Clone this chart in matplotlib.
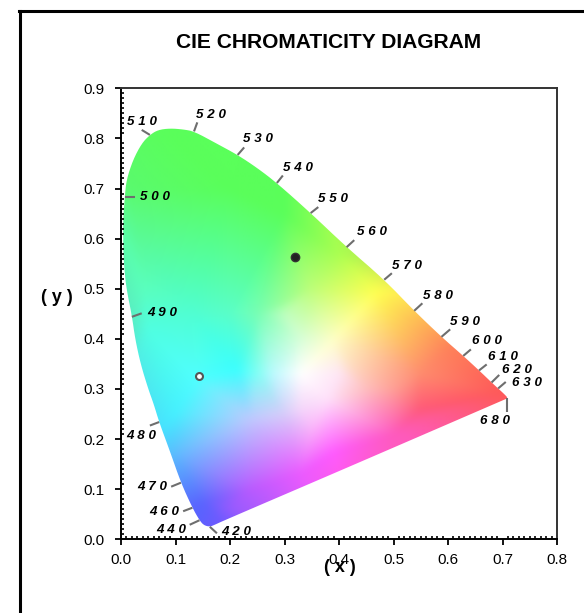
import numpy as np
import matplotlib
matplotlib.use("Agg")
import matplotlib.pyplot as plt
import matplotlib.tri as mtri
from matplotlib.patches import Polygon
from matplotlib.lines import Line2D

plt.rcParams['font.family'] = ['Liberation Sans', 'DejaVu Sans']

# Spectral locus
locus_x = [0.163, 0.152, 0.144, 0.131, 0.110, 0.090, 0.070, 0.060, 0.050, 0.036, 0.026, 0.020,
           0.010, 0.006, 0.004, 0.004, 0.007, 0.010, 0.022, 0.038, 0.053, 0.068, 0.090,
           0.114, 0.134, 0.175, 0.214, 0.250, 0.286, 0.348, 0.412, 0.483, 0.538, 0.588,
           0.628, 0.657, 0.680, 0.692, 0.703, 0.710, 0.704, 0.670, 0.400, 0.190, 0.172]
locus_y = [0.025, 0.028, 0.038, 0.063, 0.113, 0.175, 0.234, 0.270, 0.300, 0.350, 0.400, 0.446,
           0.500, 0.540, 0.584, 0.640, 0.684, 0.717, 0.757, 0.790, 0.807, 0.817, 0.820,
           0.818, 0.814, 0.790, 0.767, 0.741, 0.711, 0.651, 0.585, 0.518, 0.456, 0.404,
           0.366, 0.337, 0.313, 0.301, 0.290, 0.282, 0.279, 0.263, 0.136, 0.038, 0.029]

# Colour samples inside the diagram
col_x = [0.330, 0.213, 0.140, 0.200, 0.100, 0.030, 0.040, 0.050, 0.300, 0.400, 0.470,
         0.600, 0.690, 0.550, 0.390, 0.500, 0.400, 0.330, 0.237, 0.200, 0.180, 0.150,
         0.094, 0.100, 0.237, 0.300, 0.350, 0.400, 0.390, 0.300, 0.250, 0.350, 0.450,
         0.500, 0.550, 0.330, 0.280, 0.130, 0.010, 0.380, 0.330, 0.250,
         -0.1, -0.1, 0.3, 0.9, 0.9, 0.5, 0.1, 0.2]
col_y = [0.330, 0.337, 0.320, 0.700, 0.800, 0.600, 0.500, 0.420, 0.650, 0.570, 0.493,
         0.380, 0.290, 0.260, 0.172, 0.210, 0.135, 0.130, 0.098, 0.060, 0.040, 0.070,
         0.170, 0.250, 0.238, 0.250, 0.220, 0.330, 0.397, 0.450, 0.450, 0.500, 0.300,
         0.300, 0.330, 0.260, 0.330, 0.450, 0.700, 0.280, 0.400, 0.330,
         0.0, 0.9, 1.0, 0.5, 0.1, -0.1, -0.1, 0.45]
col_r = [255, 60, 80, 90, 90, 90, 90, 80, 90, 170, 255,
         255, 255, 255, 255, 255, 255, 235, 185, 150, 110, 90,
         90, 70, 190, 215, 250, 255, 255, 190, 120, 190, 255,
         255, 255, 245, 190, 80, 90, 255, 215, 130,
         80, 90, 90, 255, 255, 255, 90, 90]
col_g = [255, 255, 255, 255, 255, 250, 255, 255, 255, 255, 255,
         130, 90, 90, 90, 90, 90, 90, 90, 90, 90, 100,
         190, 240, 200, 205, 180, 230, 255, 255, 255, 255, 190,
         160, 140, 215, 250, 255, 250, 225, 255, 255,
         130, 250, 255, 90, 90, 90, 90, 255]
col_b = [255, 255, 255, 90, 90, 150, 190, 225, 90, 80, 80,
         90, 90, 120, 255, 190, 240, 255, 255, 255, 255, 255,
         255, 255, 255, 250, 250, 245, 200, 190, 180, 120, 190,
         150, 110, 250, 255, 210, 110, 250, 215, 245,
         255, 100, 90, 90, 150, 220, 255, 200]

# Wavelength marks: label, tick start, tick end, label position
wave_labels = ['5 1 0', '5 2 0', '5 3 0', '5 4 0', '5 5 0', '5 6 0', '5 7 0', '5 8 0',
               '5 9 0', '6 0 0', '6 1 0', '6 2 0', '6 3 0', '6 8 0',
               '5 0 0', '4 9 0', '4 8 0', '4 7 0', '4 6 0', '4 4 0', '4 2 0']
tick_x0 = [0.053, 0.134, 0.214, 0.286, 0.348, 0.414, 0.483, 0.538,
           0.588, 0.628, 0.657, 0.680, 0.692, 0.709,
           0.007, 0.020, 0.070, 0.110, 0.131, 0.144, 0.163]
tick_y0 = [0.807, 0.814, 0.767, 0.711, 0.651, 0.583, 0.518, 0.456,
           0.404, 0.366, 0.337, 0.313, 0.301, 0.281,
           0.684, 0.444, 0.234, 0.113, 0.063, 0.038, 0.025]
tick_x1 = [0.038, 0.140, 0.226, 0.297, 0.362, 0.428, 0.497, 0.553,
           0.604, 0.642, 0.671, 0.694, 0.706, 0.709,
           0.026, 0.038, 0.053, 0.092, 0.114, 0.126, 0.176]
tick_y1 = [0.817, 0.832, 0.782, 0.726, 0.663, 0.597, 0.531, 0.471,
           0.419, 0.379, 0.349, 0.328, 0.314, 0.255,
           0.684, 0.451, 0.227, 0.105, 0.056, 0.029, 0.012]
label_x = [0.039, 0.165, 0.252, 0.325, 0.389, 0.461, 0.525, 0.581,
           0.632, 0.672, 0.700, 0.727, 0.745, 0.686,
           0.062, 0.076, 0.038, 0.057, 0.079, 0.093, 0.212]
label_y = [0.833, 0.847, 0.798, 0.741, 0.679, 0.613, 0.546, 0.486,
           0.434, 0.396, 0.364, 0.338, 0.312, 0.236,
           0.684, 0.451, 0.207, 0.105, 0.054, 0.019, 0.015]

# The two sample points
point_x = [0.320, 0.143]
point_y = [0.563, 0.326]

xticks = [0.0, 0.1, 0.2, 0.3, 0.4, 0.5, 0.6, 0.7, 0.8]
yticks = [0.0, 0.1, 0.2, 0.3, 0.4, 0.5, 0.6, 0.7, 0.8, 0.9]


def round_corners(pts, passes=2):
    # corner cutting so the outline has no facets
    for _ in range(passes):
        nxt = np.roll(pts, -1, axis=0)
        pts = np.column_stack([0.75 * pts + 0.25 * nxt, 0.25 * pts + 0.75 * nxt]).reshape(-1, 2)
    return pts


def soften(img, size=7, passes=3):
    kernel = np.ones(size) / size
    pad = size * passes
    img = np.pad(img, ((pad, pad), (pad, pad), (0, 0)), mode='edge')
    for _ in range(passes):
        for c in range(3):
            img[:, :, c] = np.apply_along_axis(np.convolve, 0, img[:, :, c], kernel, mode='same')
            img[:, :, c] = np.apply_along_axis(np.convolve, 1, img[:, :, c], kernel, mode='same')
    return img[pad:-pad, pad:-pad]


fig = plt.figure(figsize=(5.84, 6.13), dpi=100)
W, H = 584, 613
ax = fig.add_axes([121 / W, 1 - 539.3 / H, 436 / W, 451 / H])

# Colour field clipped to the locus
tri = mtri.Triangulation(col_x, col_y)
gx, gy = np.meshgrid(np.linspace(0, 0.8, 440), np.linspace(0, 0.9, 450))
rgb = np.dstack([mtri.LinearTriInterpolator(tri, c)(gx, gy).filled(255) for c in (col_r, col_g, col_b)])
rgb = np.clip(soften(rgb) / 255.0, 0, 1)
im = ax.imshow(rgb, origin='lower', extent=(0, 0.8, 0, 0.9), aspect='auto', interpolation='bilinear', zorder=1)
poly = Polygon(round_corners(np.column_stack([locus_x, locus_y])), closed=True, transform=ax.transData,
               fc='none', ec='none')
ax.add_patch(poly)
im.set_clip_path(poly)

for x0, x1, y0, y1 in zip(tick_x0, tick_x1, tick_y0, tick_y1):
    ax.plot([x0, x1], [y0, y1], color='#6e6e6e', lw=1.5, solid_capstyle='butt', zorder=2)
for lab, lx, ly in zip(wave_labels, label_x, label_y):
    ax.text(lx, ly, lab, fontsize=9.6, fontstyle='italic', fontweight='bold', color='black',
            ha='center', va='center', zorder=3)

ax.plot(point_x[0], point_y[0], 'o', ms=6, mfc='#222222', mec='#333333', zorder=4)
ax.plot(point_x[1], point_y[1], 'o', ms=5, mfc='white', mec='#555555', mew=1.5, zorder=4)

ax.set_xlim(0, 0.8)
ax.set_ylim(0, 0.9)
ax.set_xticks(xticks)
ax.set_yticks(yticks)
ax.set_xticklabels(['%.1f' % v for v in xticks])
ax.set_yticklabels(['%.1f' % v for v in yticks])
ax.set_xticks(np.arange(0, 81) / 100, minor=True)
ax.set_yticks(np.arange(0, 91) / 100, minor=True)
ax.tick_params(which='major', direction='out', length=4, width=1.3, labelsize=11, pad=6, color='black')
ax.tick_params(axis='y', which='major', pad=8)
ax.tick_params(which='minor', direction='in', length=2.5, width=1.2, color='black')
for side in ax.spines:
    ax.spines[side].set_linewidth(1.4)
ax.spines['top'].set_color('#333333')
ax.spines['right'].set_color('#333333')
ax.spines['left'].set_color('black')
ax.spines['bottom'].set_color('black')

fig.text(329 / W, 1 - 43 / H, 'CIE CHROMATICITY DIAGRAM', fontsize=15.1, fontweight='bold',
         ha='center', va='center')
fig.text(57 / W, 1 - 298 / H, '( y )', fontsize=13, fontweight='bold', ha='center', va='center')
fig.text(340 / W, 1 - 567 / H, '( x )', fontsize=13, fontweight='bold', ha='center', va='center')

# Outer frame, cut off by the image edge
fig.add_artist(Line2D([20 / W, 20 / W], [0, 1 - 11 / H], color='black', lw=2.2))
fig.add_artist(Line2D([19 / W, 1], [1 - 11 / H, 1 - 11 / H], color='black', lw=2.2))

fig.savefig('out.png', dpi=100)
